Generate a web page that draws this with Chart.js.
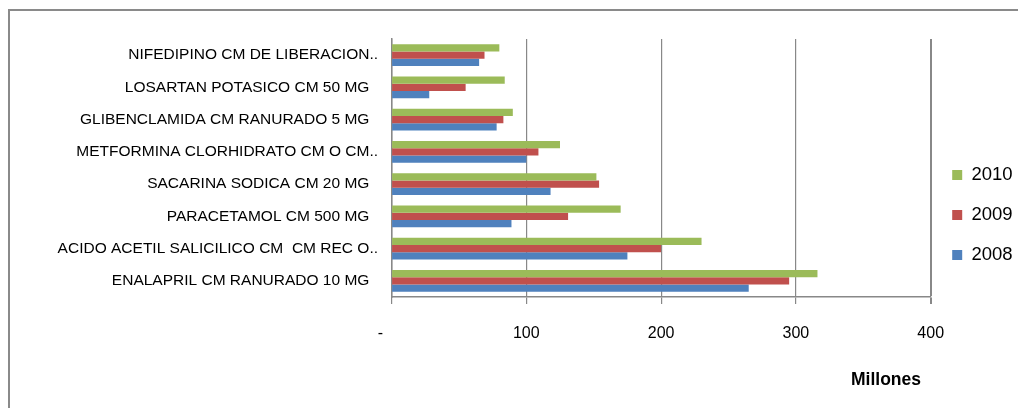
<!DOCTYPE html>
<html lang="es">
<head>
    <meta charset="UTF-8">
    <title>Ventas por producto 2008-2010</title>
    <script src="https://cdn.jsdelivr.net/npm/chart.js@4.4.1/dist/chart.umd.min.js"></script>
    <style>
        body {
            margin: 0;
            background: #fff;
            overflow: hidden;
        }
        .marco {
            position: absolute;
            left: 8px;
            top: 9px;
            width: 1100px;
            height: 500px;
            border: 2px solid #8a8a8a;
        }
        .grafico {
            position: absolute;
            left: 0;
            top: 0;
            width: 1018px;
            height: 408px;
        }
    </style>
</head>
<body>
    <div class="marco"></div>
    <div class="grafico">
        <canvas id="chart"></canvas>
    </div>

    <script>
        // Productos (de arriba hacia abajo)
        const categorias = [
            'NIFEDIPINO CM DE LIBERACION..',
            'LOSARTAN POTASICO CM 50 MG  ',
            'GLIBENCLAMIDA CM RANURADO 5 MG  ',
            'METFORMINA CLORHIDRATO CM O CM..',
            'SACARINA SODICA CM 20 MG  ',
            'PARACETAMOL CM 500 MG  ',
            'ACIDO ACETIL SALICILICO CM  CM REC O..',
            'ENALAPRIL CM RANURADO 10 MG  '
        ];

        // Millones
        const valores2010 = [80, 84, 90, 125, 152, 170, 230, 316];
        const valores2009 = [69, 55, 83, 109, 154, 131, 200, 295];
        const valores2008 = [65, 28, 78, 100, 118, 89, 175, 265];

        const ticksX = [0, 100, 200, 300, 400];

        const fuente = "'Liberation Sans', Arial, sans-serif";
        const gris = '#888888';

        new Chart(document.getElementById('chart'), {
            type: 'bar',
            data: {
                labels: categorias,
                datasets: [
                    { label: '2010', data: valores2010, backgroundColor: '#9BBB59' },
                    { label: '2009', data: valores2009, backgroundColor: '#C0504D' },
                    { label: '2008', data: valores2008, backgroundColor: '#4F81BD' }
                ]
            },
            options: {
                indexAxis: 'y',
                responsive: true,
                maintainAspectRatio: false,
                animation: false,
                categoryPercentage: 0.68,
                barPercentage: 1.0,
                layout: {
                    padding: { top: 39, bottom: 17, left: 0, right: 0 }
                },
                plugins: {
                    legend: {
                        position: 'right',
                        maxWidth: 87.3,
                        labels: {
                            color: '#000',
                            font: { family: fuente, size: 18.5 },
                            boxWidth: 10,
                            boxHeight: 10,
                            padding: 21.5
                        }
                    },
                    tooltip: { enabled: false }
                },
                scales: {
                    x: {
                        min: ticksX[0],
                        max: ticksX[ticksX.length - 1],
                        afterBuildTicks: (s) => { s.ticks = ticksX.map(v => ({ value: v })); },
                        afterFit: (s) => { s.height = 94; },
                        grid: {
                            color: gris,
                            lineWidth: (ctx) => ctx.tick && ctx.tick.value === 400 ? 2 : 1.2,
                            tickLength: 7,
                            tickColor: gris
                        },
                        border: { color: gris, width: 1.5 },
                        ticks: {
                            color: '#000',
                            padding: 20,
                            font: { family: fuente, size: 16 },
                            callback: (v) => v === 0 ? '-     ' : v
                        },
                        title: {
                            display: true,
                            text: 'Millones  ',
                            align: 'end',
                            color: '#000',
                            font: { family: fuente, size: 17.5, weight: 'bold' },
                            padding: { top: 0, bottom: 0 }
                        }
                    },
                    y: {
                        afterFit: (s) => { s.width = 391.5; },
                        grid: { display: false, drawTicks: false },
                        border: { color: gris, width: 1.5 },
                        ticks: {
                            color: '#000',
                            padding: 13.5,
                            font: { family: fuente, size: 15.5 }
                        }
                    }
                }
            }
        });
    </script>
</body>
</html>
